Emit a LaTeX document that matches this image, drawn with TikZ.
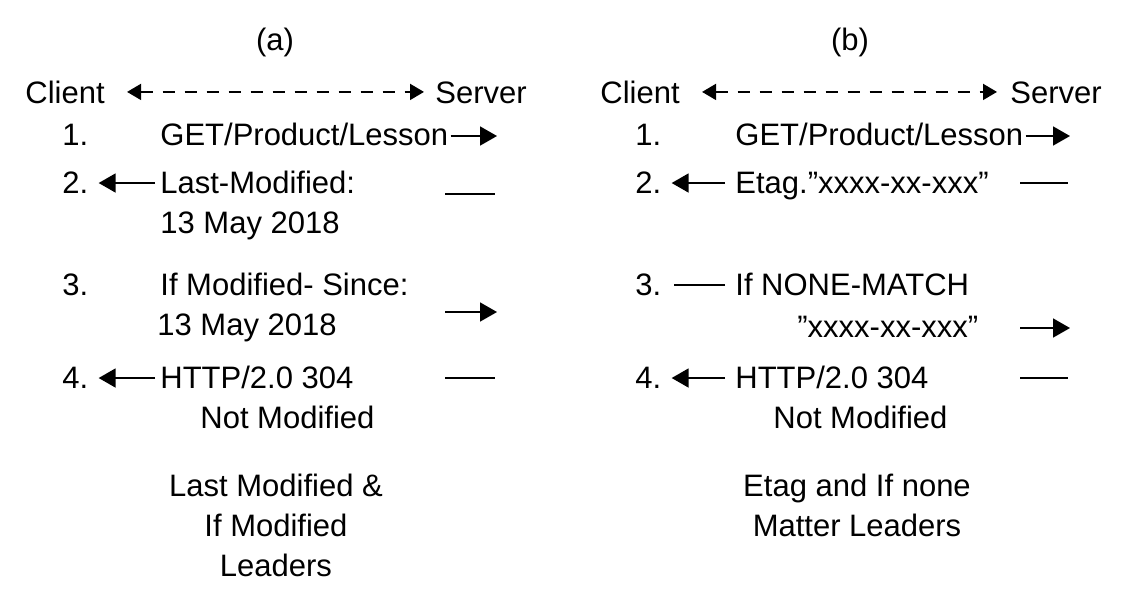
\documentclass[tikz,border=0pt]{standalone}
\usepackage{fontspec}
\setmainfont{Liberation Sans}
\usetikzlibrary{arrows.meta}

\begin{document}
\begin{tikzpicture}[x=0.5pt, y=-0.5pt,
    font=\fontsize{15.5pt}{20pt}\selectfont,
    txt/.style={anchor=base west, inner sep=0pt},
    msg/.style={line width=0.9pt},
    tip/.style={-{Triangle[length=8.5pt, width=9.5pt]}},
    both/.style={{Triangle[length=7pt, width=8pt]}-{Triangle[length=7pt, width=8pt]}}]
  \useasboundingbox (0,0) rectangle (1124,602);

  %% Panel (a): Last-Modified
  \node[anchor=base] (ttlA) at (275,50) {(a)};
  \node[txt] (cliA) at (25,103) {Client};
  \node[txt] (srvA) at (435,103) {Server};
  \draw[msg, both, dash pattern=on 6pt off 5pt, shorten <=11pt, shorten >=5.5pt] (cliA.east) -- (srvA.west |- cliA.east);

  \node[txt] (nA1) at (62,145) {1.};
  \node[txt] (getA) at (160,145) {GET/Product/Lesson};
  \coordinate (sA1) at (497,136);
  \draw[msg, tip, shorten <=1pt] (getA.east |- sA1) -- (sA1);

  \node[txt] (nA2) at (62,193) {2.};
  \node[txt] (lmA) at (160,193) {Last-Modified:};
  \node[txt] (dA1) at (160,233) {13 May 2018};
  \draw[msg, tip, shorten <=2.5pt, shorten >=5pt] (lmA.west |- 0,183) -- (nA2.east |- 0,183);
  \coordinate (sA2a) at (445,194);
  \coordinate (sA2b) at (495,194);
  \draw[msg] (sA2a) -- (sA2b);

  \node[txt] (nA3) at (62,295) {3.};
  \node[txt] (imA) at (160,295) {If Modified- Since:};
  \node[txt] (dA2) at (157,335) {13 May 2018};
  \coordinate (sA3a) at (445,312);
  \coordinate (sA3b) at (497,312);
  \draw[msg, tip] (sA3a) -- (sA3b);

  \node[txt] (nA4) at (62,388) {4.};
  \node[txt] (htA) at (160,388) {HTTP/2.0 304};
  \node[txt] (nmA) at (200,428) {Not Modified};
  \draw[msg, tip, shorten <=2.5pt, shorten >=5pt] (htA.west |- 0,378) -- (nA4.east |- 0,378);
  \coordinate (sA4a) at (445,378);
  \coordinate (sA4b) at (495,378);
  \draw[msg] (sA4a) -- (sA4b);

  \node[align=center, inner sep=0pt] (capA) at (276,525) {Last Modified \&\\If Modified\\Leaders};

  %% Panel (b): Etag
  \node[anchor=base] (ttlB) at (850,50) {(b)};
  \node[txt] (cliB) at (600,103) {Client};
  \node[txt] (srvB) at (1010,103) {Server};
  \draw[msg, both, dash pattern=on 6pt off 5pt, shorten <=11pt, shorten >=6.5pt] (cliB.east) -- (srvB.west |- cliB.east);

  \node[txt] (nB1) at (635,145) {1.};
  \node[txt] (getB) at (735,145) {GET/Product/Lesson};
  \coordinate (sB1) at (1070,136);
  \draw[msg, tip, shorten <=1pt] (getB.east |- sB1) -- (sB1);

  \node[txt] (nB2) at (635,193) {2.};
  \node[txt] (etB) at (735,193) {Etag.”xxxx-xx-xxx”};
  \draw[msg, tip, shorten <=5pt, shorten >=5pt] (etB.west |- 0,183) -- (nB2.east |- 0,183);
  \coordinate (sB2a) at (1020,183);
  \coordinate (sB2b) at (1068,183);
  \draw[msg] (sB2a) -- (sB2b);

  \node[txt] (nB3) at (635,295) {3.};
  \node[txt] (inB) at (735,295) {If NONE-MATCH};
  \node[txt] (xB) at (797,337) {”xxxx-xx-xxx”};
  \draw[msg, shorten <=5pt, shorten >=6pt] (inB.west |- 0,285) -- (nB3.east |- 0,285);
  \coordinate (sB3a) at (1020,328);
  \coordinate (sB3b) at (1070,328);
  \draw[msg, tip] (sB3a) -- (sB3b);

  \node[txt] (nB4) at (635,388) {4.};
  \node[txt] (htB) at (735,388) {HTTP/2.0 304};
  \node[txt] (nmB) at (773,428) {Not Modified};
  \draw[msg, tip, shorten <=5pt, shorten >=5pt] (htB.west |- 0,378) -- (nB4.east |- 0,378);
  \coordinate (sB4a) at (1020,378);
  \coordinate (sB4b) at (1068,378);
  \draw[msg] (sB4a) -- (sB4b);

  \node[align=center, inner sep=0pt] (capB) at (857,505) {Etag and If none\\Matter Leaders};
\end{tikzpicture}
\end{document}
